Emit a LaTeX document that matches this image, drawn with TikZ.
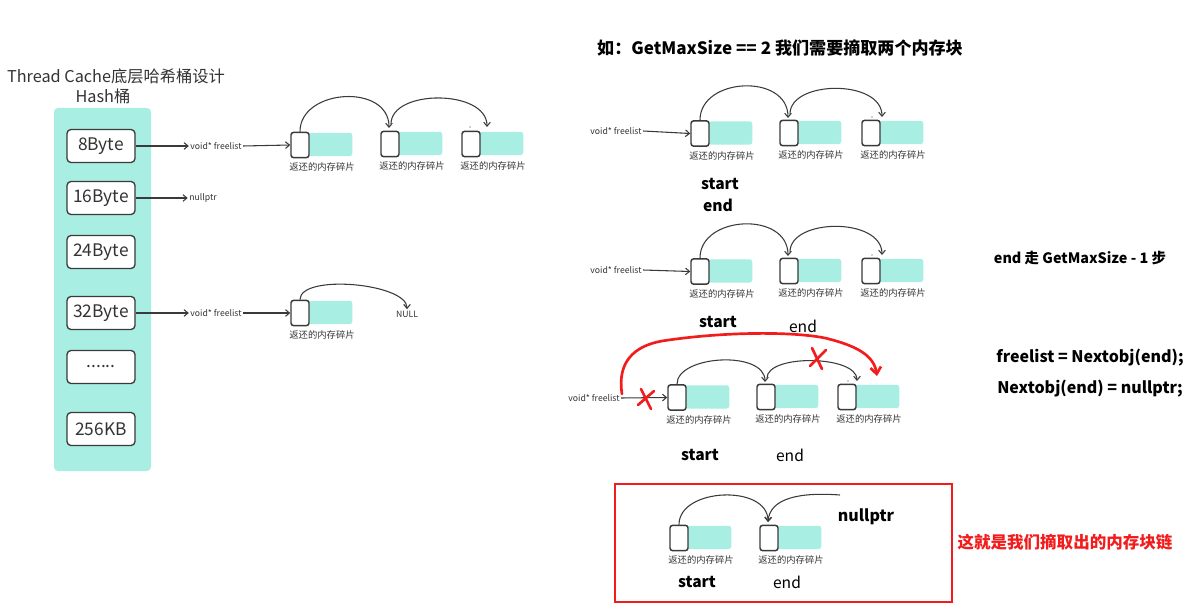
\documentclass[tikz,border=0pt]{standalone}
\usepackage{fontspec}
\setmainfont{Noto Sans CJK SC}
\usetikzlibrary{arrows.meta}
\definecolor{tealf}{HTML}{A8EEE2}
\definecolor{edgec}{HTML}{3A3A3A}
\definecolor{txt}{HTML}{333333}
\definecolor{redc}{HTML}{F21C1C}
\newcommand\memblk[3]{%
  \node[body,anchor=north west] (#1b) at (#2+8,#3-12.5) {};
  \node[ptr] (#1) at (#2,#3) {};
  \node[capt] (#1c) at (#2+22,#3+22) {返还的内存碎片};
}
\begin{document}
\begin{tikzpicture}[x=0.75pt,y=-0.75pt,
  ptr/.style={draw=edgec, line width=1.1pt, fill=white, rounded corners=2pt, minimum width=13.5pt, minimum height=19pt, inner sep=0pt},
  body/.style={fill=tealf, rounded corners=2pt, minimum width=33pt, minimum height=17.5pt, inner sep=0pt},
  capt/.style={font=\fontsize{7}{8}\selectfont, text=txt, inner sep=0pt},
  small/.style={font=\fontsize{6.5}{7}\selectfont, text=txt, inner sep=1pt},
  hb/.style={draw=edgec, line width=1pt, fill=white, rounded corners=3pt, minimum width=51pt, minimum height=24.75pt, inner sep=0pt, font=\fontsize{13}{14}\selectfont, text=txt},
  link/.style={-{Straight Barb[length=3pt,width=5pt]}, line width=0.8pt, draw=edgec},
  lab/.style={font=\fontsize{11.7}{13}\selectfont\bfseries, text=black, inner sep=0pt},
  labr/.style={font=\fontsize{11.7}{13}\selectfont, text=black, inner sep=0pt},
  note/.style={font=\fontsize{11.5}{13}\selectfont\bfseries, text=black, inner sep=0pt},
  redl/.style={draw=redc, line width=2pt, line cap=round},
]
\useasboundingbox (0,0) rectangle (1193,613);

% ---------------- left: hash buckets ----------------
\node[font=\fontsize{12.2}{14}\selectfont, text=txt] (t1) at (116,76) {Thread Cache底层哈希桶设计};
\node[font=\fontsize{12.2}{14}\selectfont, text=txt] (t2) at (103,96) {Hash桶};
\node[fill=tealf, rounded corners=3pt, minimum width=72.75pt, minimum height=272.25pt, inner sep=0pt] (bucket) at (102.5,289.5) {};
\node[hb] (b8) at (101,146) {8Byte};
\node[hb] (b16) at (101,198) {16Byte};
\node[hb] (b24) at (101,252) {24Byte};
\node[hb] (b32) at (101,313) {32Byte};
\node[hb] (bd) at (101,367) {......};
\node[hb] (b256) at (101,429) {256KB};

% 8Byte list
\node[small] (fl1) at (216,146) {void* freelist};
\memblk{m1a}{300}{145}
\memblk{m1b}{390}{144}
\memblk{m1c}{471}{144}
\draw[link] (b8.east) -- (fl1.west);
\draw[link] (fl1.east) -- (m1a.west);
\draw[link] (m1a.north) .. controls +(0,-43) and +(0,-45) .. (389,128);
\draw[link] (391,124) .. controls +(0,-35) and +(0,-38) .. (487,127);
\fill[edgec] (470,127) circle (0.5pt);

% 16Byte
\node[small] (np1) at (203,198) {nullptr};
\draw[link] (b16.east) -- (np1.west);

% 32Byte list
\node[small] (fl2) at (216,313) {void* freelist};
\memblk{m2a}{300}{313}
\node[small] (null) at (407,314) {NULL};
\draw[link] (b32.east) -- (fl2.west);
\draw[link] (fl2.east) -- (m2a.west);
\draw[link] (m2a.north) .. controls +(0,-26) and +(0,-26) .. (null.north);

% ---------------- right: step 1 ----------------
\node[font=\fontsize{12.8}{14}\selectfont\bfseries] (rt) at (780,48) {如：GetMaxSize == 2 我们需要摘取两个内存块};

\node[small] (fl3) at (616,131) {void* freelist};
\memblk{r1a}{700}{133.5}
\memblk{r1b}{789}{133}
\memblk{r1c}{871}{133}
\draw[link] (fl3.east) -- (r1a.west);
\draw[link] (r1a.north) .. controls +(0,-43) and +(0,-45) .. (788,118);
\draw[link] (790,114) .. controls +(0,-34) and +(0,-38) .. (882,117);
\fill[edgec] (872,117) circle (0.5pt);
\node[lab] (s1) at (720,184) {start};
\node[lab] (e1) at (718,205) {end};

% ---------------- step 2 ----------------
\node[small] (fl4) at (616,270) {void* freelist};
\memblk{r2a}{700}{271.5}
\memblk{r2b}{789}{271}
\memblk{r2c}{871}{271}
\draw[link] (fl4.east) -- (r2a.west);
\draw[link] (r2a.north) .. controls +(0,-43) and +(0,-45) .. (788,256);
\draw[link] (790,252) .. controls +(0,-34) and +(0,-38) .. (882,255);
\fill[edgec] (872,255) circle (0.5pt);
\node[lab] (s2) at (718,322) {start};
\node[labr] (e2) at (803,326) {end};
\node[note, font=\fontsize{10.8}{13}\selectfont\bfseries] (n1) at (1080,258) {end 走 GetMaxSize - 1 步};

% ---------------- step 3 ----------------
\node[small] (fl5) at (594,398) {void* freelist};
\memblk{r3a}{677}{397.5}
\memblk{r3b}{766}{397}
\memblk{r3c}{847}{397}
\draw[link] (fl5.east) -- (r3a.west);
\draw[link] (r3a.north) .. controls +(0,-29) and +(0,-32) .. (765,382);
\draw[link] (767,378) .. controls +(0,-24) and +(0,-26) .. (857,381);
\fill[edgec] (848,381) circle (0.5pt);
\node[lab] (s3) at (700,455) {start};
\node[labr] (e3) at (790,455) {end};
% red rewiring
\coordinate (rs) at (622,394);
\coordinate (re) at (877,376);
\draw[redl, -{Straight Barb[length=5pt,width=8pt]}] (rs) .. controls (617,362) and (634,346) .. (662,341)
   .. controls (720,332) and (790,331) .. (825,338) .. controls (858,346) and (874,356) .. (re);
\draw[redl] (641,389) -- (651,409);
\draw[redl] (654,391) -- (638,405);
\draw[redl] (812,348) -- (822,369);
\draw[redl] (826,350) -- (810,366);
\node[note, font=\fontsize{12}{13}\selectfont\bfseries] (n2) at (1090,358) {freelist = Nextobj(end);};
\node[note, font=\fontsize{12}{13}\selectfont\bfseries] (n3) at (1090,389) {Nextobj(end) = nullptr;};

% ---------------- result ----------------
\node[draw=redc, line width=1.6pt, minimum width=252.75pt, minimum height=88.5pt, inner sep=0pt] (res) at (783.5,543) {};
\memblk{q1}{679}{538}
\memblk{q2}{769}{538}
\draw[link] (q1.north) .. controls +(0,-37) and +(0,-38) .. (768,522);
\coordinate (qs) at (840,495);
\draw[link] (qs) .. controls (800,492) and (770,498) .. (768,522);
\node[lab, font=\fontsize{12}{13}\selectfont\bfseries] (np2) at (866,517) {nullptr};
\node[lab] (s4) at (697,582) {start};
\node[labr] (e4) at (787,582) {end};
\node[font=\fontsize{12.4}{14}\selectfont\bfseries, text=redc] (n4) at (1065,542) {这就是我们摘取出的内存块链};
\end{tikzpicture}
\end{document}
